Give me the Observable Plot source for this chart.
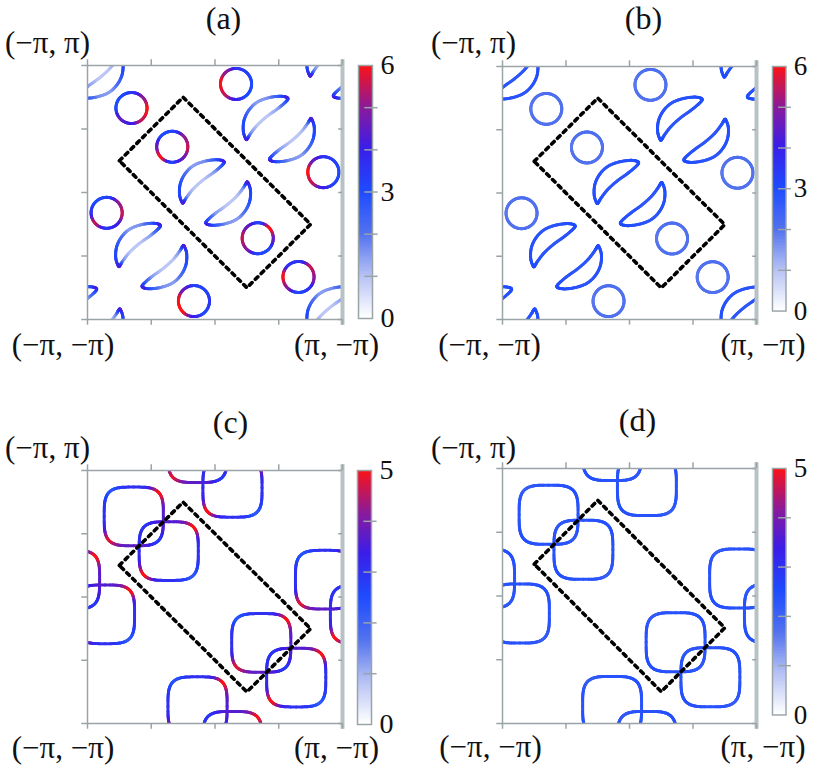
<!DOCTYPE html>
<html><head><meta charset="utf-8">
<script src="https://cdn.jsdelivr.net/npm/d3@7"></script>
<script src="https://cdn.jsdelivr.net/npm/@observablehq/plot@0.6"></script>
<style>
body{margin:0;background:#fff;}
#fig{position:relative;width:830px;height:766px;overflow:hidden;background:#fff;}
#fig > div{position:absolute;}
#fig svg{overflow:visible;}
</style></head><body><div id="fig"></div>
<script>
// ---------------- data ----------------
const panelLabels = ["(a)", "(b)", "(c)", "(d)"];
const cornerLabels = ["(−π, π)", "(−π, −π)", "(π, −π)"];
const axisTicks = [-1, -0.5, 0, 0.5, 1];            // in units of π
const boxX = [-0.75, -0.25, 0.75, 0.25];
const boxY = [0.25, 0.75, -0.25, -0.75];

// circular pockets, panels (a)/(b)
const circleX = [-0.655, -0.335, 0.165, 0.85, 0.655, 0.335, -0.165, -0.85];
const circleY = [0.665, 0.36, 0.855, 0.16, -0.665, -0.36, -0.855, -0.16];
const circleRadius = 0.122;
// weight at E, NE, N, NW, W, SW, S, SE
const circleWeightA = [
  [6, 5, 3.5, 3, 3, 4.5, 4, 5.5],
  [5.5, 5, 3.2, 3, 4.5, 6, 3.2, 4.5],
  [3, 3.2, 3.5, 5, 6, 5.5, 4, 3],
  [3, 3.2, 3.5, 4.5, 6, 5.5, 4, 3.2],
  [5, 5.5, 3.5, 3.5, 6, 5, 3, 3.5],
  [4.5, 6, 3.2, 4.5, 5.5, 5, 3.2, 3],
  [3.5, 3.2, 3.2, 4.5, 6, 6, 4, 3],
  [5.5, 5, 3.2, 3, 3.5, 5.5, 3.5, 4]
];
const circleWeightB = [
  [2, 2, 2.1, 2, 1.9, 2, 2, 2],
  [2, 2, 2.1, 2, 1.9, 2, 2, 2],
  [2, 2, 2.1, 2, 1.9, 2, 2, 2],
  [2, 2, 2.1, 2, 1.9, 2, 2, 2],
  [2, 2, 2.1, 2, 1.9, 2, 2, 2],
  [2, 2, 2.1, 2, 1.9, 2, 2, 2],
  [2, 2, 2.1, 2, 1.9, 2, 2, 2],
  [2, 2, 2.1, 2, 1.9, 2, 2, 2]
];

// crescent pockets (pairs), panels (a)/(b)
const crescentPairX = [0, 0.5, -0.5, -1, 1, 1, -1];
const crescentPairY = [0, 0.5, -0.5, 1, -1, 1, -1];
// lower-right member of a pair, relative to the pair centre (the other member is its 180° image)
const crescentX = [0.257, 0.278, 0.272, 0.233, 0.168, 0.076, -0.016, -0.069, -0.058, 0.008, 0.095, 0.172, 0.224, 0.243];
const crescentY = [0.080, 0.018, -0.070, -0.150, -0.212, -0.247, -0.258, -0.245, -0.217, -0.160, -0.097, -0.027, 0.040, 0.071];
const crescentWeightA = [4.3, 3.2, 3, 2.2, 1.4, 1.6, 2.8, 4.3, 3.2, 1.5, 0.9, 0.9, 1.6, 3.2];
const crescentWeightB = [3, 2.9, 2.9, 2.8, 2.7, 2.8, 2.9, 3, 2.9, 2.8, 2.7, 2.7, 2.8, 2.9];

// rounded-square pockets (overlapping pairs), panels (c)/(d)
const squarePairX = [-0.5, 0.5, -1, 1, 0, 0];
const squarePairY = [0.5, -0.5, 0, 0, 1, -1];
const squareOffset = 0.137;
const squareHalf = 0.232;
// weight at E, NE, N, NW, W, SW, S, SE : [upper-left member, lower-right member]
const squareWeightC = [
  [3.6, 5, 3, 2.3, 3, 4.8, 3.7, 2.8],
  [3, 5, 3.6, 2.9, 3.1, 5, 3, 2.2]
];
const squareWeightD = [
  [2.35, 2.4, 2.35, 2.1, 2.35, 2.4, 2.35, 2.2],
  [2.35, 2.4, 2.35, 2.2, 2.35, 2.4, 2.35, 2.1]
];

const colorbarMax = [6, 6, 5, 5];
const colorbarLabels = [[0, 3, 6], [0, 3, 6], [0, 5], [0, 5]];
const colorbarTicks = [[1, 2, 3, 4, 5], [1, 2, 3, 4, 5], [1, 2, 3, 4], [1, 2, 3, 4]];

// ---------------- styles / layout ----------------
const rampStops = [0, 0.17, 0.33, 0.5, 0.67, 0.83, 1];
const rampColors = ["#ffffff", "#b3bff4", "#5272ee", "#1e4bff", "#3b1de9", "#8b1a9a", "#ff1212"];
const frameGray = "#9aa4a6";
const font = "'Liberation Serif', 'Times New Roman', serif";
const layout = [
  {qx: 0,   qy: 0,   L: 87,  R: 342, T: 65,  B: 319, cb: [358, 372, 65, 318],  title: [8.5, -47], tl: [-40, -22], bl: [-24.5, 26], br: [-6, 26]},
  {qx: 415, qy: 0,   L: 502, R: 756, T: 66,  B: 319, cb: [772, 786, 66, 319],  title: [14, -48],  tl: [-29, -23], bl: [-13, 26],   br: [6.5, 26]},
  {qx: 0,   qy: 383, L: 87,  R: 342, T: 470, B: 723, cb: [357, 371, 470, 724], title: [15.5, -48], tl: [-40, -22], bl: [-24.5, 25], br: [-6, 25]},
  {qx: 415, qy: 383, L: 502, R: 756, T: 468, B: 723, cb: [772, 786, 468, 723], title: [8, -48],   tl: [-29, -20], bl: [-12, 24],   br: [6.5, 24]}
];

// ---------------- geometry helpers ----------------
function weightAt(w, theta) {
  let k = ((theta % (2 * Math.PI)) + 2 * Math.PI) % (2 * Math.PI) / (Math.PI / 4);
  const i = Math.floor(k) % 8, f = k - Math.floor(k);
  const g = (1 - Math.cos(Math.PI * f)) / 2;
  return w[i] * (1 - g) + w[(i + 1) % 8] * g;
}
function toSegments(pts, out) {
  for (let i = 0; i < pts.length; i++) {
    const a = pts[i], b = pts[(i + 1) % pts.length];
    out.push({x1: a[0], y1: a[1], x2: b[0], y2: b[1], v: (a[2] + b[2]) / 2});
  }
}
function circlePts(cx, cy, r, w) {
  const n = 90, pts = [];
  for (let i = 0; i < n; i++) {
    const t = 2 * Math.PI * i / n;
    pts.push([cx + r * Math.cos(t), cy + r * Math.sin(t), weightAt(w, t)]);
  }
  return pts;
}
function squarePts(cx, cy, a, w) {
  const n = 140, p = 2 / 3.7, pts = [];
  for (let i = 0; i < n; i++) {
    const t = 2 * Math.PI * i / n, c = Math.cos(t), s = Math.sin(t);
    pts.push([cx + a * Math.sign(c) * Math.pow(Math.abs(c), p), cy + a * Math.sign(s) * Math.pow(Math.abs(s), p), weightAt(w, t)]);
  }
  return pts;
}
function cr(p0, p1, p2, p3, t) {
  const t2 = t * t, t3 = t2 * t;
  return 0.5 * (2 * p1 + (-p0 + p2) * t + (2 * p0 - 5 * p1 + 4 * p2 - p3) * t2 + (-p0 + 3 * p1 - 3 * p2 + p3) * t3);
}
function crescentPts(cx, cy, sgn, w) {
  const n = crescentX.length, sub = 8, pts = [];
  const X = crescentX.map(d => cx + sgn * d), Y = crescentY.map(d => cy + sgn * d);
  for (let i = 0; i < n; i++) {
    const i0 = (i - 1 + n) % n, i2 = (i + 1) % n, i3 = (i + 2) % n;
    for (let s = 0; s < sub; s++) {
      const t = s / sub;
      pts.push([cr(X[i0], X[i], X[i2], X[i3], t), cr(Y[i0], Y[i], Y[i2], Y[i3], t), w[i] + (w[i2] - w[i]) * t]);
    }
  }
  return pts;
}

function contourSegments(k) {
  const segs = [];
  if (k < 2) {
    const cw = k === 0 ? circleWeightA : circleWeightB;
    const kw = k === 0 ? crescentWeightA : crescentWeightB;
    crescentPairX.forEach((px, j) => {
      toSegments(crescentPts(px, crescentPairY[j], 1, kw), segs);
      toSegments(crescentPts(px, crescentPairY[j], -1, kw), segs);
    });
    circleX.forEach((x, j) => toSegments(circlePts(x, circleY[j], circleRadius, cw[j]), segs));
  } else {
    const sw = k === 2 ? squareWeightC : squareWeightD;
    squarePairX.forEach((px, j) => {
      const py = squarePairY[j];
      toSegments(squarePts(px - squareOffset, py + squareOffset, squareHalf, sw[0]), segs);
      toSegments(squarePts(px + squareOffset, py - squareOffset, squareHalf, sw[1]), segs);
    });
  }
  return segs;
}

// ---------------- drawing ----------------
const fig = document.getElementById("fig");

layout.forEach((L, k) => {
  const max = colorbarMax[k];
  const color = {type: "linear", domain: rampStops.map(t => t * max), range: rampColors, interpolate: "rgb"};
  const box = boxX.map((x, i) => ({x, y: boxY[i]}));
  box.push(box[0]);
  const segs = contourSegments(k);

  const chart = Plot.plot({
    width: 415, height: 383,
    marginLeft: L.L - L.qx, marginRight: L.qx + 415 - L.R,
    marginTop: L.T - L.qy, marginBottom: L.qy + 383 - L.B,
    x: {domain: [-1, 1], axis: null},
    y: {domain: [-1, 1], axis: null},
    color,
    style: {background: "transparent", overflow: "visible"},
    marks: [
      Plot.link(segs, {x1: "x1", y1: "y1", x2: "x2", y2: "y2", stroke: "v", strokeWidth: 3, strokeLinecap: "round", clip: true}),
      Plot.frame({stroke: frameGray, strokeWidth: 1.5}),
      Plot.ruleX([1], {y1: -1.045, y2: 1.045, stroke: "#b8c2c4", strokeWidth: 4}),
      Plot.ruleX(axisTicks, {x: d => d, y1: -1, y2: -1.045, stroke: frameGray, strokeWidth: 1.5}),
      Plot.ruleX(axisTicks, {x: d => d, y1: 1, y2: 1.045, stroke: frameGray, strokeWidth: 1.5}),
      Plot.ruleY(axisTicks, {y: d => d, x1: -1.045, x2: -1, stroke: frameGray, strokeWidth: 1.5}),
      Plot.ruleY(axisTicks, {y: d => d, x1: 0.97, x2: 1, stroke: frameGray, strokeWidth: 1.5}),
      Plot.line(box, {x: "x", y: "y", stroke: "#000", strokeWidth: 3.6, strokeDasharray: "3.6,4.6"}),
      Plot.text([panelLabels[k]], {x: 0, y: 1, text: d => d, dx: L.title[0], dy: L.title[1], fontSize: 32, fontFamily: font, fill: "#111", textAnchor: "middle", lineAnchor: "middle"}),
      Plot.text([cornerLabels[0]], {x: -1, y: 1, text: d => d, dx: L.tl[0], dy: L.tl[1], fontSize: 31, fontFamily: font, fill: "#111", textAnchor: "middle", lineAnchor: "middle"}),
      Plot.text([cornerLabels[1]], {x: -1, y: -1, text: d => d, dx: L.bl[0], dy: L.bl[1], fontSize: 31, fontFamily: font, fill: "#111", textAnchor: "middle", lineAnchor: "middle"}),
      Plot.text([cornerLabels[2]], {x: 1, y: -1, text: d => d, dx: L.br[0], dy: L.br[1], fontSize: 31, fontFamily: font, fill: "#111", textAnchor: "middle", lineAnchor: "middle"})
    ]
  });
  const d1 = document.createElement("div");
  d1.style.left = L.qx + "px"; d1.style.top = L.qy + "px";
  d1.appendChild(chart);
  fig.appendChild(d1);

  // colour bar
  const [cl, cr2, ct, cb] = L.cb;
  const ramp = d3.range(0, max, max / 160);
  const bar = Plot.plot({
    width: 60, height: cb - ct,
    marginLeft: 0, marginRight: 60 - (cr2 - cl), marginTop: 0, marginBottom: 0,
    x: {domain: [0, 1], axis: null},
    y: {domain: [0, max], axis: null},
    color,
    style: {background: "transparent", overflow: "visible"},
    marks: [
      Plot.rect(ramp, {x1: 0, x2: 1, y1: d => d, y2: d => Math.min(max, d + max / 100), fill: d => d, shapeRendering: "crispEdges"}),
      Plot.frame({stroke: frameGray, strokeWidth: 1.5}),
      Plot.ruleY(colorbarTicks[k], {y: d => d, x1: 0.45, x2: 1.4, stroke: frameGray, strokeWidth: 1.5}),
      Plot.text(colorbarLabels[k], {x: 1, y: d => d, text: d => String(d), dx: 8, textAnchor: "start", lineAnchor: "middle", fontSize: 28, fontFamily: font, fill: "#111"})
    ]
  });
  const d2 = document.createElement("div");
  d2.style.left = cl + "px"; d2.style.top = ct + "px";
  d2.appendChild(bar);
  fig.appendChild(d2);
});
</script></body></html>
